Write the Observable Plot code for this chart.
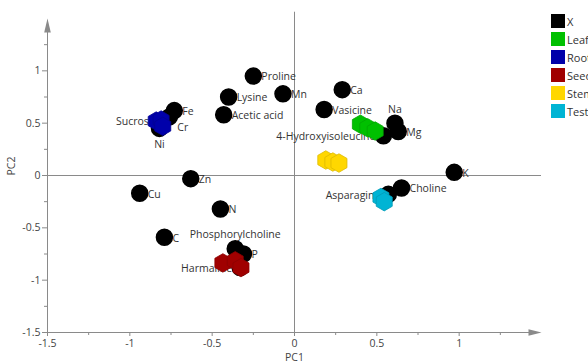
<!DOCTYPE html>
<html><head><meta charset="utf-8">
<script src="https://cdn.jsdelivr.net/npm/d3@7"></script>
<script src="https://cdn.jsdelivr.net/npm/@observablehq/plot@0.6"></script>
<style>
body{margin:0;background:#fff;font-family:"Open Sans",sans-serif;}
#wrap{position:relative;width:588px;height:362px;overflow:hidden}
#legend{position:absolute;left:551px;top:12px;font-size:11px;color:#333;white-space:nowrap}
.item{display:flex;align-items:center;height:18px}
.sw{width:14px;height:14px;margin-right:2px;flex:none}
</style></head><body><div id="wrap"><div id="legend"></div></div>
<script>
// Legend groups
const groups = ["X", "Leaf", "Root", "Seed", "Stem", "Testa"];
const groupColors = ["#000000", "#00c000", "#0000aa", "#a00000", "#ffd700", "#00b4d4"];

// Variables (X) – loadings
const xNames = ["Proline","Mn","Lysine","Acetic acid","Fe","Cr","Ni","Sucrose","Zn","Cu","N","C",
  "Phosphorylcholine","P","Harmaline","Ca","Vasicine","Na","Mg","4-Hydroxyisoleucine","K","Choline","Asparagine"];
const xPC1 = [-0.25,-0.07,-0.40,-0.43,-0.73,-0.76,-0.82,-0.80,-0.63,-0.94,-0.45,-0.79,
  -0.36,-0.31,-0.33,0.29,0.18,0.61,0.63,0.54,0.97,0.65,0.57];
const xPC2 = [0.95,0.78,0.75,0.58,0.62,0.56,0.45,0.52,-0.03,-0.17,-0.32,-0.59,
  -0.70,-0.75,-0.88,0.82,0.63,0.50,0.42,0.38,0.03,-0.12,-0.18];
// label side for each variable
const xLabelSide = ["right","right","right","right","right","belowRight","below","left","right","right","right","right",
  "above","right","left","right","right","above","right","left","right","right","left"];

// Scores per tissue
const leafPC1 = [0.40, 0.445, 0.49];
const leafPC2 = [0.49, 0.455, 0.425];
const rootPC1 = [-0.84, -0.81, -0.80];
const rootPC2 = [0.52, 0.53, 0.47];
const seedPC1 = [-0.435, -0.36, -0.325];
const seedPC2 = [-0.835, -0.815, -0.88];
const stemPC1 = [0.19, 0.233, 0.27];
const stemPC2 = [0.148, 0.129, 0.119];
const testaPC1 = [0.525, 0.545];
const testaPC2 = [-0.21, -0.25];

// Axis ticks
const xMajor = [-1.5, -1, -0.5, 0, 0.5, 1];
const xMinor = [-1.25, -0.75, -0.25, 0.25, 0.75, 1.25];
const yMajor = [-1.5, -1, -0.5, 0, 0.5, 1];
const yMinor = [-1.25, -0.75, -0.25, 0.25, 0.75, 1.25];

const vars = xNames.map((n, i) => ({name: n, x: xPC1[i], y: xPC2[i], side: xLabelSide[i]}));
const scores = [];
[[leafPC1, leafPC2, "Leaf"], [rootPC1, rootPC2, "Root"], [seedPC1, seedPC2, "Seed"],
 [stemPC1, stemPC2, "Stem"], [testaPC1, testaPC2, "Testa"]].forEach(([xs, ys, g]) =>
  xs.forEach((v, i) => scores.push({x: v, y: ys[i], g})));

const sideStyle = {
  right: {textAnchor: "start", dx: 8, dy: 1},
  left: {textAnchor: "end", dx: -8, dy: 1},
  above: {textAnchor: "middle", dx: 0, dy: -14},
  below: {textAnchor: "middle", dx: 0, dy: 16},
  belowRight: {textAnchor: "start", dx: 8, dy: 11}
};
const labelMarks = Object.entries(sideStyle).map(([side, s]) =>
  Plot.text(vars.filter(d => d.side === side), {x: "x", y: "y", text: "name", ...s, fontSize: 10.5, fill: "#333"}));

const arrowUp = {draw(c) { c.moveTo(0, 0); c.lineTo(-3.3, 14); c.lineTo(3.3, 14); c.closePath(); }};
const arrowRight = {draw(c) { c.moveTo(0, 0); c.lineTo(-13, -3.2); c.lineTo(-13, 3.2); c.closePath(); }};
const axisGray = "#8a8a8a";

const plot = Plot.plot({
  width: 588, height: 362,
  marginLeft: 47, marginRight: 47, marginTop: 18, marginBottom: 30,
  style: {fontFamily: "'Open Sans', sans-serif", fontSize: "11px", color: "#444", overflow: "visible"},
  x: {domain: [-1.5, 1.5], axis: null},
  y: {domain: [-1.5, 1.5], axis: null},
  color: {domain: groups, range: groupColors},
  marks: [
    Plot.ruleY([0], {x1: -1.5, x2: 1.5, stroke: axisGray}),
    Plot.ruleX([0], {y1: -1.5, y2: 1.56, stroke: axisGray}),
    Plot.ruleY([-1.5], {x1: -1.5, x2: 1.46, stroke: axisGray}),
    Plot.ruleX([-1.5], {y1: -1.5, y2: 1.46, stroke: axisGray}),
    Plot.dot([{x: -1.5, y: 1.5}], {x: "x", y: "y", symbol: arrowUp, fill: axisGray, stroke: "none"}),
    Plot.dot([{x: 1.5, y: -1.5}], {x: "x", y: "y", symbol: arrowRight, fill: axisGray, stroke: "none"}),
    Plot.axisX({ticks: xMajor, tickSize: 4, tickPadding: 3, stroke: axisGray, fill: "#444", fontSize: 10.5, tickFormat: d => String(d), label: null}),
    Plot.axisX({ticks: xMinor, tickSize: 3, text: null, stroke: axisGray, label: null}),
    Plot.axisY({ticks: yMajor, tickSize: 5, tickPadding: 2, stroke: axisGray, fill: "#444", fontSize: 10.5, tickFormat: d => String(d), label: null}),
    Plot.axisY({ticks: yMinor, tickSize: 3, text: null, stroke: axisGray, label: null}),
    Plot.text(["PC1"], {frameAnchor: "bottom", dy: 28, fill: "#444", fontSize: 10.5}),
    Plot.text(["PC2"], {frameAnchor: "left", dx: -36, rotate: -90, fill: "#444", fontSize: 10.5}),
    Plot.dot(vars, {x: "x", y: "y", r: 8, fill: "#000", stroke: "#000"}),
    ...labelMarks,
    Plot.dot(scores, {x: "x", y: "y", r: 8, symbol: "hexagon", fill: "g", stroke: d => d3.color(groupColors[groups.indexOf(d.g)]).darker(0.4).formatHex(), strokeWidth: 0.8})
  ]
});
plot.style.position = "absolute";
plot.style.left = "0"; plot.style.top = "0";
document.getElementById("wrap").appendChild(plot);

const legend = document.getElementById("legend");
legend.style.zIndex = 2;
groups.forEach((g, i) => {
  const it = document.createElement("div"); it.className = "item";
  const sw = document.createElement("span"); sw.className = "sw"; sw.style.background = groupColors[i];
  const t = document.createElement("span"); t.textContent = g;
  it.appendChild(sw); it.appendChild(t); legend.appendChild(it);
});
</script></body></html>
